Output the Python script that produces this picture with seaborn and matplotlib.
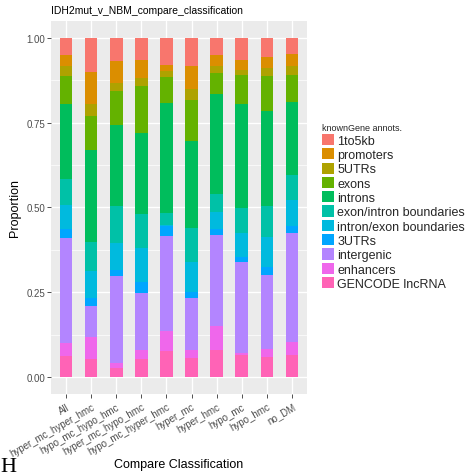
import numpy as np
import pandas as pd
import matplotlib
matplotlib.use("Agg")
import matplotlib.pyplot as plt
from matplotlib.patches import Patch
from matplotlib.ticker import MultipleLocator
import seaborn as sns

# Comparison groups along the x axis
classifications = ["All", "hyper_mc_hyper_hmc", "hypo_mc_hypo_hmc", "hyper_mc_hypo_hmc",
                   "hypo_mc_hyper_hmc", "hyper_mc", "hyper_hmc", "hypo_mc", "hypo_hmc", "no_DM"]

# Annotation categories, listed top of stack first
annotations = ["1to5kb", "promoters", "5UTRs", "exons", "introns",
               "exon/intron boundaries", "intron/exon boundaries", "3UTRs",
               "intergenic", "enhancers", "GENCODE lncRNA"]

# Proportion of each annotation per classification
prop_1to5kb     = [0.050, 0.101, 0.069, 0.064, 0.081, 0.084, 0.049, 0.064, 0.056, 0.047]
prop_promoters  = [0.033, 0.094, 0.064, 0.054, 0.016, 0.067, 0.035, 0.030, 0.032, 0.035]
prop_5utrs      = [0.029, 0.035, 0.022, 0.023, 0.018, 0.033, 0.020, 0.015, 0.024, 0.027]
prop_exons      = [0.083, 0.100, 0.103, 0.140, 0.077, 0.119, 0.060, 0.085, 0.102, 0.079]
prop_introns    = [0.220, 0.273, 0.239, 0.239, 0.325, 0.256, 0.296, 0.308, 0.283, 0.216]
prop_exon_intron = [0.077, 0.084, 0.109, 0.100, 0.034, 0.101, 0.054, 0.072, 0.091, 0.075]
prop_intron_exon = [0.072, 0.081, 0.078, 0.099, 0.004, 0.088, 0.050, 0.071, 0.088, 0.075]
prop_3utrs      = [0.025, 0.023, 0.018, 0.032, 0.029, 0.020, 0.016, 0.015, 0.023, 0.021]
prop_intergenic = [0.310, 0.091, 0.256, 0.169, 0.280, 0.153, 0.269, 0.268, 0.219, 0.322]
prop_enhancers  = [0.039, 0.064, 0.016, 0.026, 0.059, 0.024, 0.072, 0.008, 0.024, 0.039]
prop_lncrna     = [0.062, 0.054, 0.026, 0.054, 0.077, 0.055, 0.079, 0.064, 0.058, 0.064]

series = [prop_1to5kb, prop_promoters, prop_5utrs, prop_exons, prop_introns,
          prop_exon_intron, prop_intron_exon, prop_3utrs, prop_intergenic,
          prop_enhancers, prop_lncrna]

# ggplot-style hue palette
palette = ["#F8766D", "#DB8E00", "#AEA200", "#64B200", "#00BD5C", "#00C1A7",
           "#00BADE", "#00A6FF", "#B385FF", "#EF67EB", "#FF63B6"]

rows = []
for ann, vals in zip(annotations, series):
    for cls, v in zip(classifications, vals):
        rows.append({"classification": cls, "annotation": ann, "proportion": v})
df = pd.DataFrame(rows)
df["annotation"] = pd.Categorical(df["annotation"], categories=annotations, ordered=True)
df["classification"] = pd.Categorical(df["classification"], categories=classifications, ordered=True)
df = df.sort_values(["classification", "annotation"])
# top edge of each segment: sum of this level and every level stacked below it
df["top"] = (df.iloc[::-1].groupby("classification", observed=True)["proportion"].cumsum())

sns.set_theme(style="darkgrid")
plt.rcParams["font.family"] = ["Liberation Sans", "DejaVu Sans"]

fig = plt.figure(figsize=(4.71, 4.77), dpi=100)
ax = fig.add_axes([0.1083, 0.1719, 0.5435, 0.782])
ax.set_facecolor("#EBEBEB")

for ann, col in zip(annotations, palette):
    sub = df[df["annotation"] == ann]
    sns.barplot(data=sub, x="classification", y="top", order=classifications,
                color=col, saturation=1, width=0.5, errorbar=None, linewidth=0, ax=ax)

ax.set_xlim(-0.6, len(classifications) - 0.4)
ax.set_ylim(-0.05, 1.05)
ax.yaxis.set_major_locator(MultipleLocator(0.25))
ax.yaxis.set_minor_locator(MultipleLocator(0.125))
ax.set_yticks([0, 0.25, 0.5, 0.75, 1.0])
ax.set_yticklabels(["0.00", "0.25", "0.50", "0.75", "1.00"])
ax.grid(which="major", color="white", linewidth=1.0)
ax.grid(which="minor", axis="y", color="white", linewidth=0.5)
ax.set_axisbelow(True)
for s in ax.spines.values():
    s.set_visible(False)

ax.tick_params(axis="both", which="major", length=2.7, width=0.6, color="#333333",
               labelsize=7, labelcolor="#4D4D4D", pad=1.5, left=True, bottom=True)
ax.tick_params(axis="x", which="major", pad=2.5)
ax.tick_params(axis="both", which="minor", length=0)
for lbl in ax.get_xticklabels():
    lbl.set_rotation(30)
    lbl.set_ha("right")
    lbl.set_va("top")
    lbl.set_rotation_mode("anchor")

ax.set_xlabel("Compare Classification", fontsize=9, color="black", labelpad=0)
ax.set_ylabel("Proportion", fontsize=9, color="black", labelpad=4)
ax.set_title("IDH2mut_v_NBM_compare_classification", fontsize=7.5, loc="left",
             color="black", pad=6)

handles = [Patch(facecolor=c, edgecolor="none", label=a) for a, c in zip(annotations, palette)]
leg = fig.legend(handles=handles, title="knownGene annots.", loc="upper left",
                 bbox_to_anchor=(0.683, 0.739), frameon=False, fontsize=9,
                 title_fontsize=6.5, handlelength=1.0, handleheight=1.0,
                 handletextpad=0.25, labelspacing=0.115, borderpad=0,
                 borderaxespad=0, alignment="left")

fig.text(0.0, 0.011, "H", fontsize=16, family=["Liberation Serif", "DejaVu Serif"],
         ha="left", va="baseline", color="black")

fig.savefig("out.png", dpi=100)
